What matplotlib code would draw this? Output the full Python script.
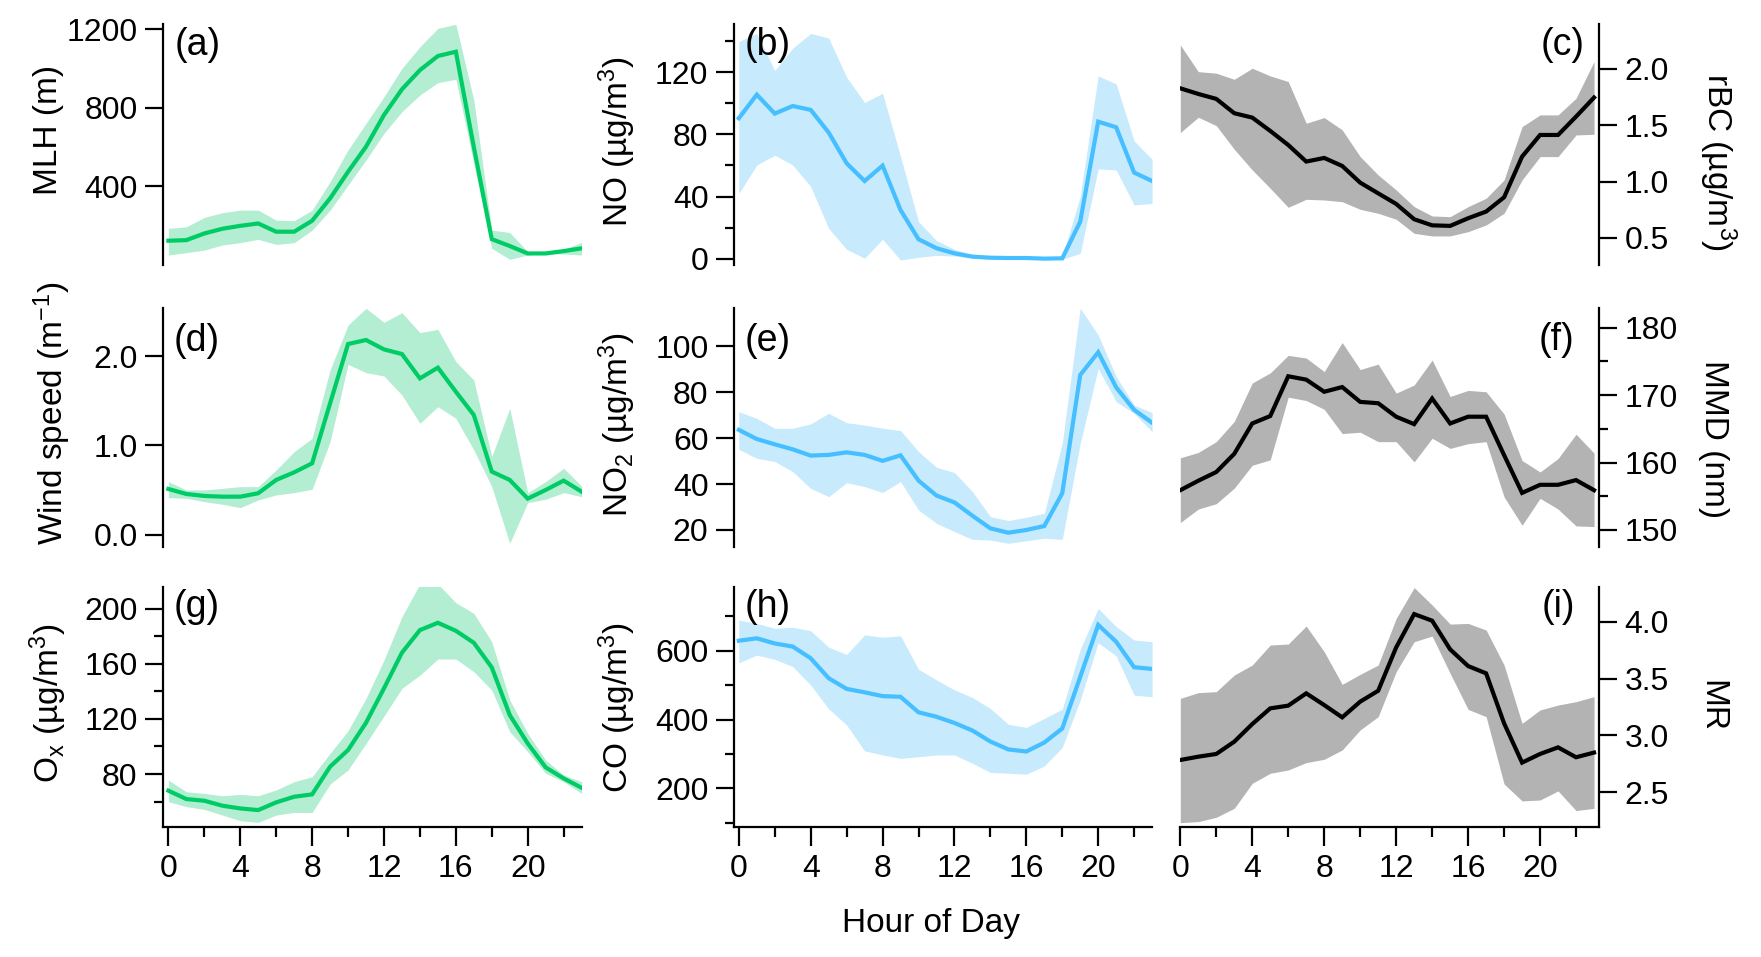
import numpy as np
import matplotlib
matplotlib.use('Agg')
import matplotlib.pyplot as plt
from matplotlib.ticker import MultipleLocator, FormatStrFormatter

plt.rcParams['font.family'] = ['Liberation Sans', 'DejaVu Sans']
plt.rcParams['mathtext.fontset'] = 'custom'
plt.rcParams['mathtext.rm'] = 'Liberation Sans'
plt.rcParams['mathtext.it'] = 'Liberation Sans:italic'
plt.rcParams['mathtext.bf'] = 'Liberation Sans:bold'

hours = np.arange(24)

# (a) mixing layer height
mlh    = [121, 124, 158, 182, 197, 209, 167, 167, 223, 337, 473, 601, 763, 894, 992, 1064, 1086, 600, 129, 94, 56, 56, 68, 82]
mlh_hi = [184, 192, 240, 264, 277, 277, 226, 223, 277, 422, 584, 720, 856, 1001, 1111, 1205, 1226, 839, 175, 163, 65, 60, 77, 112]
mlh_lo = [48, 60, 73, 99, 111, 128, 102, 111, 175, 277, 405, 533, 669, 780, 865, 928, 945, 516, 82, 26, 48, 56, 53, 48]

# (b) NO
no    = [90.4, 105.6, 93.4, 98.3, 95.8, 81.2, 61.4, 50.0, 59.9, 31.3, 12.5, 6.7, 3.4, 1.3, 0.6, 0.4, 0.4, 0.0, 0.2, 23.8, 88.2, 84.6, 55.4, 50.0]
no_hi = [139.8, 145, 121.1, 135.5, 145, 142, 116.8, 100.5, 106.5, 65.7, 23.8, 11.6, 6.0, 2.4, 1.3, 0.9, 0.9, 0.9, 1.3, 40, 117.7, 112.5, 75.8, 64]
no_lo = [42, 60.3, 66.6, 60.3, 46.4, 19.5, 6.0, 0.2, 12.5, -0.9, 0.9, 2.1, 1.7, 0.4, -0.4, -0.4, -0.4, -0.4, -0.4, 3.4, 57.8, 57.1, 34.6, 35.6]

# (c) rBC
rbc    = [1.828, 1.778, 1.734, 1.607, 1.568, 1.450, 1.325, 1.178, 1.210, 1.139, 0.991, 0.896, 0.802, 0.666, 0.612, 0.607, 0.675, 0.734, 0.861, 1.222, 1.414, 1.414, 1.577, 1.746]
rbc_hi = [2.213, 1.976, 1.962, 1.908, 2.006, 1.938, 1.888, 1.518, 1.568, 1.459, 1.222, 1.059, 0.926, 0.778, 0.695, 0.689, 0.778, 0.852, 1.015, 1.488, 1.592, 1.592, 1.740, 2.065]
rbc_lo = [1.435, 1.571, 1.497, 1.287, 1.104, 0.941, 0.772, 0.843, 0.837, 0.822, 0.754, 0.719, 0.666, 0.541, 0.518, 0.518, 0.556, 0.615, 0.719, 1.015, 1.222, 1.222, 1.414, 1.420]

# (d) wind speed
ws    = [0.514, 0.458, 0.436, 0.428, 0.428, 0.466, 0.615, 0.700, 0.801, 1.471, 2.134, 2.179, 2.074, 2.022, 1.750, 1.870, 1.601, 1.341, 0.708, 0.615, 0.406, 0.503, 0.607, 0.484]
ws_hi = [0.596, 0.503, 0.503, 0.521, 0.540, 0.540, 0.726, 0.931, 1.080, 1.844, 2.346, 2.533, 2.376, 2.484, 2.261, 2.298, 1.937, 1.732, 0.875, 1.415, 0.473, 0.596, 0.745, 0.547]
ws_lo = [0.417, 0.410, 0.372, 0.343, 0.305, 0.391, 0.447, 0.473, 0.510, 1.043, 1.907, 1.814, 1.777, 1.564, 1.248, 1.434, 1.304, 0.950, 0.540, -0.093, 0.361, 0.399, 0.473, 0.428]

# (e) NO2
no2    = [63.6, 59.6, 57.3, 55.1, 52.4, 52.7, 53.8, 52.7, 50.1, 52.5, 41.5, 35.0, 32.0, 26.2, 20.7, 18.8, 20.0, 21.7, 36.0, 87.5, 97.4, 82.1, 72.3, 66.7]
no2_hi = [71.5, 68.6, 64.3, 64.3, 66.2, 70.8, 66.7, 65.7, 64.3, 63.3, 54.1, 47.3, 45.0, 36.7, 25.8, 24.1, 25.5, 27.3, 57.7, 116.6, 104.9, 86.8, 74.4, 71.1]
no2_lo = [55.1, 51.2, 49.8, 45.4, 38.1, 34.5, 40.6, 38.9, 36.3, 41.1, 28.7, 22.9, 19.3, 15.9, 15.6, 14.2, 15.3, 16.4, 15.9, 57.7, 90.4, 75.9, 70.8, 62.8]

# (f) MMD
mmd    = [155.9, 157.3, 158.6, 161.3, 165.8, 166.9, 172.8, 172.3, 170.5, 171.2, 169.0, 168.8, 166.8, 165.7, 169.5, 165.8, 166.8, 166.8, 161.1, 155.5, 156.7, 156.7, 157.4, 155.9]
mmd_hi = [160.7, 161.5, 163.1, 166.1, 171.8, 173.3, 175.9, 175.5, 173.5, 177.8, 173.8, 174.6, 170.3, 171.5, 175.2, 169.8, 170.7, 170.5, 167.2, 160.3, 158.6, 160.6, 164.2, 161.4]
mmd_lo = [151.1, 153.1, 153.9, 156.2, 159.6, 160.4, 169.7, 169.2, 167.9, 164.3, 164.5, 163.1, 163.1, 160.1, 163.6, 162.1, 162.8, 163.1, 154.9, 150.7, 154.7, 153.1, 150.6, 150.5]

# (g) Ox
ox    = [67.9, 61.8, 60.6, 57.0, 55.0, 53.8, 59.4, 63.5, 65.2, 85.3, 97.4, 117.2, 142.2, 168.1, 184.5, 189.8, 184.0, 175.3, 157.4, 122.8, 102.2, 84.8, 76.8, 70.0]
ox_hi = [75.6, 67.1, 65.9, 64.2, 65.2, 64.2, 68.4, 74.4, 78.0, 95.0, 111.4, 134.9, 162.7, 194.2, 218, 218, 204.4, 196.6, 176.0, 133.7, 109.5, 90.1, 79.2, 74.4]
ox_lo = [59.9, 56.3, 54.3, 50.2, 46.1, 44.9, 50.2, 52.1, 52.1, 72.7, 82.9, 102.2, 122.1, 142.2, 151.8, 163.5, 163.5, 154.3, 140.9, 110.7, 96.2, 80.5, 74.4, 65.9]

# (h) CO
co    = [629, 636, 621, 612, 578, 520, 489, 479, 468, 466, 421, 408, 390, 368, 336, 313, 307, 333, 374, 524, 675, 626, 552, 547]
co_hi = [689, 679, 665, 668, 658, 610, 589, 646, 639, 643, 546, 515, 486, 464, 432, 386, 377, 403, 430, 604, 723, 670, 631, 626]
co_lo = [565, 587, 575, 554, 500, 431, 384, 309, 297, 287, 292, 297, 297, 273, 246, 244, 241, 265, 319, 457, 623, 585, 471, 466]

# (i) MR
mr    = [2.784, 2.813, 2.837, 2.945, 3.100, 3.238, 3.262, 3.370, 3.267, 3.159, 3.297, 3.393, 3.774, 4.067, 4.009, 3.757, 3.610, 3.546, 3.106, 2.761, 2.837, 2.895, 2.808, 2.849]
mr_hi = [3.326, 3.376, 3.385, 3.531, 3.619, 3.795, 3.804, 3.962, 3.736, 3.449, 3.537, 3.619, 4.029, 4.30, 4.147, 3.979, 3.985, 3.927, 3.619, 3.106, 3.224, 3.267, 3.297, 3.341]
mr_lo = [2.233, 2.242, 2.280, 2.359, 2.579, 2.667, 2.696, 2.761, 2.790, 2.872, 3.048, 3.165, 3.560, 3.824, 3.874, 3.546, 3.229, 3.165, 2.573, 2.424, 2.432, 2.512, 2.339, 2.359]

GRN, GRN_F = '#00CC66', '#B3EDD2'
BLU, BLU_F = '#45BFFF', '#C7EAFC'
BLK, GRY_F = '#000000', '#B3B3B3'

W, H = 1761, 957
fig = plt.figure(figsize=(W/100, H/100), dpi=100)

def px(x, y):
    return x/W, 1 - y/H

# column left edge / width and row top / bottom, in pixels
COLS = [(163.0, 418.6), (733.8, 418.3), (1180.3, 418.6)]
ROWS = [(24.3, 265.0), (307.7, 547.3), (586.7, 827.3)]
XLIM = [(-0.3, 23.0), (-0.28, 23.0), (0.0, 23.27)]

panels = [
    # row, col, mean, hi, lo, line, fill, ylim, major ticks, minor step, fmt, tag
    (0, 0, mlh, mlh_hi, mlh_lo, GRN, GRN_F, (-3, 1226), [400, 800, 1200], None, '%d', '(a)'),
    (0, 1, no,  no_hi,  no_lo,  BLU, BLU_F, (-4.1, 150.9), [0, 40, 80, 120], 20, '%d', '(b)'),
    (0, 2, rbc, rbc_hi, rbc_lo, BLK, GRY_F, (0.26, 2.396), [0.5, 1.0, 1.5, 2.0], None, '%.1f', '(c)'),
    (1, 0, ws,  ws_hi,  ws_lo,  GRN, GRN_F, (-0.138, 2.54), [0.0, 1.0, 2.0], None, '%.1f', '(d)'),
    (1, 1, no2, no2_hi, no2_lo, BLU, BLU_F, (12.45, 116.8), [20, 40, 60, 80, 100], None, '%d', '(e)'),
    (1, 2, mmd, mmd_hi, mmd_lo, BLK, GRY_F, (147.43, 182.97), [150, 160, 170, 180], 5, '%d', '(f)'),
    (2, 0, ox,  ox_hi,  ox_lo,  GRN, GRN_F, (41.3, 216.0), [80, 120, 160, 200], 20, '%d', '(g)'),
    (2, 1, co,  co_hi,  co_lo,  BLU, BLU_F, (86.7, 786), [200, 400, 600], 100, '%d', '(h)'),
    (2, 2, mr,  mr_hi,  mr_lo,  BLK, GRY_F, (2.192, 4.308), [2.5, 3.0, 3.5, 4.0], None, '%.1f', '(i)'),
]

TAGS = {'(a)': (175, 45), '(b)': (744.5, 45), '(c)': (1584.8, 45),
        '(d)': (173.3, 341), '(e)': (744.5, 341), '(f)': (1574.4, 340),
        '(g)': (173.3, 607), '(h)': (744.5, 607), '(i)': (1575.2, 607)}

for r, c, m, hi, lo, lc, fc, ylim, ticks, mnr, fmt, tag in panels:
    x0, w = COLS[c]
    yt, yb = ROWS[r]
    ax = fig.add_axes([x0/W, 1 - yb/H, w/W, (yb - yt)/H])
    ax.fill_between(hours, lo, hi, color=fc, lw=0)
    ax.plot(hours, m, c=lc, lw=3.0, solid_joinstyle='miter')
    ax.set_xlim(*XLIM[c])
    ax.set_ylim(*ylim)
    ax.set_yticks(ticks)
    ax.yaxis.set_major_formatter(FormatStrFormatter(fmt))
    if mnr:
        ax.yaxis.set_minor_locator(MultipleLocator(mnr))
    for s in ['top', 'right', 'left', 'bottom']:
        ax.spines[s].set_visible(False)
    side = 'right' if c == 2 else 'left'
    ax.spines[side].set_visible(True)
    ax.spines[side].set_linewidth(1.6)
    if c == 2:
        ax.yaxis.tick_right()
    ax.tick_params(axis='y', which='major', direction='out', length=12.8, width=1.6,
                   pad=5.5, labelsize=23)
    ax.tick_params(axis='y', which='minor', direction='out', length=6.2, width=1.6)
    if r == 2:
        ax.spines['bottom'].set_visible(True)
        ax.spines['bottom'].set_linewidth(1.6)
        ax.xaxis.set_major_locator(MultipleLocator(4))
        ax.xaxis.set_minor_locator(MultipleLocator(2))
        ax.tick_params(axis='x', which='major', direction='out', length=13.5, width=1.6,
                       pad=6, labelsize=23)
        ax.tick_params(axis='x', which='minor', direction='out', length=7.2, width=1.6)
    else:
        ax.set_xticks([])
        ax.xaxis.set_minor_locator(plt.NullLocator())
    tx, ty = TAGS[tag]
    fig.text(*px(tx, ty), tag, fontsize=27, va='center',
             ha='right' if c == 2 else 'left')

ylabels = [
    ('MLH (m)', 49, 130, 90),
    ('NO (µg/m$^3$)', 617, 142, 90),
    ('rBC (µg/m$^3$)', 1718, 162, -90),
    ('Wind speed (m$^{-1}$)', 52, 413, 90),
    ('NO$_2$ (µg/m$^3$)', 617, 425, 90),
    ('MMD (nm)', 1714, 439, -90),
    ('O$_\\mathrm{x}$ (µg/m$^3$)', 48, 703, 90),
    ('CO (µg/m$^3$)', 617, 708, 90),
    ('MR', 1712, 706, -90),
]
for txt, x, y, rot in ylabels:
    fig.text(*px(x, y), txt, fontsize=24, rotation=rot, ha='center', va='center')

fig.text(*px(931, 932), 'Hour of Day', fontsize=24, ha='center', va='baseline')

plt.savefig('out.png', dpi=100)
